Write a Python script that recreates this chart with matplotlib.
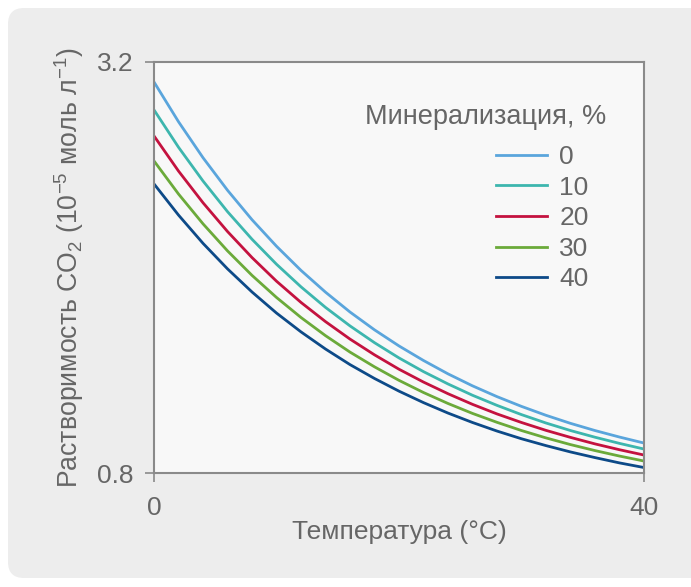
import matplotlib
matplotlib.use("Agg")
import matplotlib.pyplot as plt
from matplotlib.patches import FancyBboxPatch

plt.rcParams['font.family'] = ['Liberation Sans', 'DejaVu Sans']
plt.rcParams['mathtext.fontset'] = 'custom'
plt.rcParams['mathtext.rm'] = 'Liberation Sans'
plt.rcParams['mathtext.it'] = 'Liberation Sans'

# Temperature, °C
temp = [0, 2, 4, 6, 8, 10, 12, 14, 16, 18, 20,
        22, 24, 26, 28, 30, 32, 34, 36, 38, 40]

# CO2 solubility (10^-5 mol/l) for each mineralization level, %
sol_0 = [3.083, 2.851, 2.641, 2.451, 2.279, 2.124, 1.983, 1.856, 1.740, 1.636, 1.542,
         1.457, 1.379, 1.309, 1.246, 1.189, 1.137, 1.090, 1.048, 1.010, 0.975]
sol_10 = [2.920, 2.702, 2.505, 2.326, 2.165, 2.019, 1.887, 1.767, 1.659, 1.561, 1.472,
          1.392, 1.320, 1.254, 1.195, 1.141, 1.092, 1.048, 1.009, 0.973, 0.940]
sol_20 = [2.768, 2.563, 2.378, 2.210, 2.058, 1.920, 1.796, 1.684, 1.582, 1.490, 1.406,
          1.331, 1.263, 1.201, 1.145, 1.095, 1.049, 1.008, 0.970, 0.936, 0.905]
sol_30 = [2.622, 2.429, 2.255, 2.097, 1.954, 1.825, 1.708, 1.602, 1.506, 1.420, 1.341,
          1.270, 1.206, 1.148, 1.096, 1.048, 1.005, 0.966, 0.931, 0.899, 0.870]
sol_40 = [2.488, 2.306, 2.141, 1.992, 1.857, 1.734, 1.624, 1.524, 1.433, 1.352, 1.278,
          1.211, 1.150, 1.095, 1.045, 1.000, 0.960, 0.923, 0.890, 0.859, 0.832]

labels = ['0', '10', '20', '30', '40']
colors = ['#5AA5DC', '#3DB6AE', '#C4123F', '#6BAA3A', '#0D4A88']
series = [sol_0, sol_10, sol_20, sol_30, sol_40]

text_color = '#666666'
spine_color = '#8a8a8a'

fig = plt.figure(figsize=(6.91, 5.87), dpi=100)
fig.patch.set_facecolor('white')

# light gray rounded panel behind the chart
panel = FancyBboxPatch((0.08, 0.09), 7.3, 5.70,
                       boxstyle='round,pad=0,rounding_size=0.16',
                       transform=fig.dpi_scale_trans,
                       facecolor='#EDEDED', edgecolor='none', zorder=-10)
fig.add_artist(panel)

ax = fig.add_axes([0.2229, 0.1942, 0.7090, 0.7002])
ax.set_zorder(1)
ax.set_facecolor('#F8F8F8')

for vals, col, lab in zip(series, colors, labels):
    ax.plot(temp, vals, color=col, lw=2.0, label=lab)

ax.set_xlim(0, 40)
ax.set_ylim(0.8, 3.2)
ax.set_xticks([0, 40])
ax.set_yticks([0.8, 3.2])
ax.set_yticklabels(['0.8', '3.2'])

for s in ax.spines.values():
    s.set_color(spine_color)
    s.set_linewidth(1.5)

ax.tick_params(axis='both', colors=spine_color, labelcolor=text_color,
               labelsize=19, length=6.5, width=1.2, direction='out')
ax.tick_params(axis='x', pad=10)
ax.tick_params(axis='y', pad=8)

ax.set_xlabel('Температура (°C)', fontsize=19, color=text_color, labelpad=0)
ax.set_ylabel(r'Растворимость CO$_2$ (10$^{-5}$ моль л$^{-1}$)',
              fontsize=19.2, color=text_color, labelpad=8)

# legend title placed separately so entries sit right of centre as in the source
ax.text(0.924, 0.866, 'Минерализация, %', transform=ax.transAxes,
        ha='right', va='center', fontsize=19.5, color=text_color)

leg = ax.legend(loc='upper left', bbox_to_anchor=(0.698, 0.798),
                frameon=False, fontsize=19, borderpad=0, borderaxespad=0,
                handlelength=1.95, handletextpad=0.45, labelspacing=0.25)
for t in leg.get_texts():
    t.set_color(text_color)

fig.savefig('out.png', dpi=100)
